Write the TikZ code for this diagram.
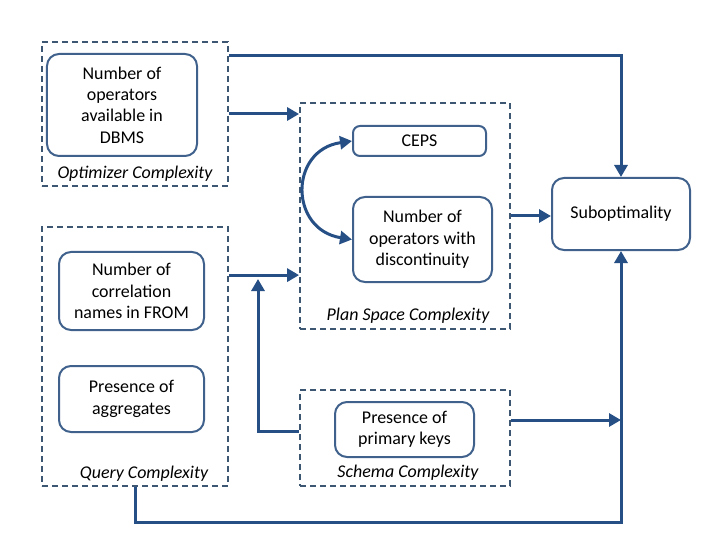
\documentclass[tikz,border=0pt]{standalone}
\usepackage{fontspec}
\setmainfont{Carlito}
\usetikzlibrary{arrows.meta,positioning}
\definecolor{cgrp}{rgb}{0.24,0.34,0.45}
\definecolor{cfac}{rgb}{0.25,0.38,0.55}
\definecolor{cflow}{rgb}{0.15,0.31,0.52}
\tikzset{
  grp/.style={draw=cgrp,dash pattern=on 6bp off 4bp,line width=1.8bp,inner sep=0pt},
  fac/.style={draw=cfac,rounded corners=12bp,line width=2bp,inner sep=0pt,align=center,
    font=\fontsize{18}{21.5}\selectfont},
  lab/.style={inner sep=0pt,font=\fontsize{18}{21}\selectfont\itshape},
  flow/.style={draw=cflow,line width=3bp,-{Triangle[length=12bp,width=13bp]}},
}
\begin{document}
\begin{tikzpicture}[x=1bp,y=-1bp]
%
\useasboundingbox (0,0) rectangle (720,540);
%
\node[grp,minimum width=186bp,minimum height=144bp] (opt) at (135,114) {};
\node[fac,minimum width=150bp,minimum height=102bp] (dbms) at (122,105) {Number of\\operators\\available in\\DBMS};
\node[lab] (optlab) at (135,174) {Optimizer Complexity};
%
\node[grp,minimum width=210bp,minimum height=226bp] (plan) at (405,216) {};
\node[fac,rounded corners=7bp,minimum width=133bp,minimum height=30bp] (ceps) at (419.5,141) {CEPS};
\node[fac,minimum width=139bp,minimum height=85bp] (ops) at (422.5,239.5) {Number of\\operators with\\discontinuity};
\node[lab] (planlab) at (408,316) {Plan Space Complexity};
%
\node[grp,minimum width=186bp,minimum height=259bp] (query) at (135,356.5) {};
\node[fac,minimum width=145bp,minimum height=78bp] (corr) at (131.5,291) {Number of\\correlation\\names in FROM};
\node[fac,minimum width=145bp,minimum height=66bp] (aggr) at (131.5,399) {Presence of\\aggregates};
\node[lab] (querylab) at (144,474) {Query Complexity};
%
\node[grp,minimum width=210bp,minimum height=96bp] (schema) at (405,438) {};
\node[fac,minimum width=139bp,minimum height=55bp] (pkey) at (404.5,429.5) {Presence of\\primary keys};
\node[lab] (schemalab) at (408,473) {Schema Complexity};
%
\node[fac,minimum width=138bp,minimum height=72bp] (sub) at (621,214) {Suboptimality};
%
\coordinate (join) at (258,276);
\coordinate (low) at (621,522);
%
\draw[flow] ([yshift=-14bp]opt.north east) -| (sub.north);
\draw[flow] (opt.east) -- (opt.east -| plan.west);
\draw[flow] ([yshift=-49bp]query.north east) -- ([yshift=-49bp]query.north east -| plan.west);
\draw[flow] ([yshift=7bp]schema.west) -| ([yshift=-3bp]join);
\draw[flow] (plan.east) -- (plan.east -| sub.west);
\draw[flow] ([yshift=18bp]schema.east) -- ([yshift=18bp]schema.east -| low);
\draw[flow] (query.south) |- (low) -- (sub.south);
\draw[flow,{Triangle[length=12bp,width=13bp]}-{Triangle[length=12bp,width=13bp]}]
  (ceps.west) .. controls +(-63,9) and +(-63,-10) .. (ops.west);
%
\end{tikzpicture}
\end{document}
